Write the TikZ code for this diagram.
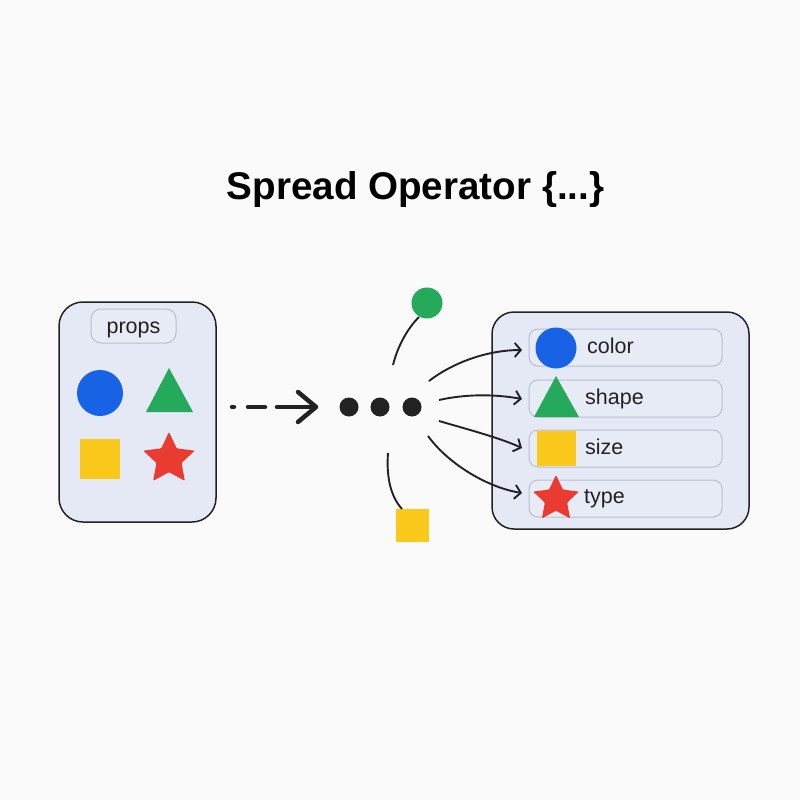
\documentclass[tikz,border=0pt]{standalone}
\usepackage{fontspec}
\setmainfont{Liberation Sans}
\usetikzlibrary{shapes.geometric,arrows.meta}
\definecolor{bg}{HTML}{FAFAFA}
\definecolor{boxfill}{HTML}{E5E9F5}
\definecolor{rowfill}{HTML}{E7EBF6}
\definecolor{rowline}{HTML}{B8BED0}
\definecolor{gblue}{HTML}{1862E6}
\definecolor{ggreen}{HTML}{25A95B}
\definecolor{gyellow}{HTML}{FBC91B}
\definecolor{gred}{HTML}{EA3B30}
\definecolor{ink}{HTML}{222222}
\tikzset{
  bigbox/.style={draw=ink, line width=1.5pt, fill=boxfill, rounded corners=24pt},
  rowbox/.style={draw=rowline, line width=1pt, fill=rowfill, rounded corners=9pt},
  lbl/.style={font=\fontsize{21.5}{24}\selectfont, text=ink, inner sep=0pt},
  dotnode/.style={circle, fill=ink, minimum size=19pt, inner sep=0pt},
  starnode/.style={star, star points=5, star point ratio=2.05, fill=gred, inner sep=0pt, rounded corners=1pt},
  link/.style={draw=ink, line width=1.9pt, -{Straight Barb[length=6pt,width=14pt,line width=1.9pt]}},
  stem/.style={draw=ink, line width=1.9pt},
}
\begin{document}
\begin{tikzpicture}[x=1pt,y=-1pt]
\fill[bg] (0,0) rectangle (800,800);
\useasboundingbox (0,0) rectangle (800,800);

% title
\node[anchor=base, inner sep=0pt, font=\fontsize{38.6}{44}\selectfont\bfseries, text=black] (title) at (415.5,199) {Spread Operator \{...\}};

% left box
\draw[bigbox] (59,302) rectangle (216,522);
\draw[rowbox, rounded corners=10pt] (91,309) rectangle (176,343);
\node[lbl, anchor=base] (props) at (133.5,333) {props};
\fill[gblue] (100,393) circle (23);
\fill[ggreen] (169,368) -- (193,412) -- (146,412) -- cycle;
\fill[gyellow] (80,439) rectangle (120,479);
\node[starnode, minimum size=54pt] (lstar) at (169,459) {};

% dashed arrow
\draw[ink, line width=4.5pt, line cap=round] (232,407) -- (234,407);
\draw[ink, line width=4.5pt, line cap=round] (248,407) -- (265,407);
\draw[ink, line width=4.5pt, line cap=round, line join=round] (277,407) -- (315,407);
\draw[ink, line width=4.5pt, line cap=round, line join=round] (298,392) -- (316,407) -- (298,422);

% dots
\node[dotnode] (d1) at (349,407) {};
\node[dotnode] (d2) at (380,407) {};
\node[dotnode] (d3) at (412,407) {};

% green circle and yellow square
\node[circle, fill=ggreen, minimum size=31pt, inner sep=0pt] (gc) at (427,303) {};
\node[rectangle, fill=gyellow, minimum size=33pt, inner sep=0pt] (ys) at (412,525.5) {};
\coordinate (gs) at (393,365);
\coordinate (ysS) at (388,453);
\draw[stem] (gs) .. controls (398,345) and (408,328) .. (419,317);
\draw[stem] (ysS) .. controls (386,480) and (392,498) .. (402,509);

% right box
\draw[bigbox, rounded corners=22pt] (492,312) rectangle (749,529);
\draw[rowbox] (529,329) rectangle (722,366);
\draw[rowbox] (529,380) rectangle (722,417);
\draw[rowbox] (529,430) rectangle (722,467);
\draw[rowbox] (529,480) rectangle (722,517);
\coordinate (r1) at (522,350);
\coordinate (r2) at (522,399);
\coordinate (r3) at (522,448);
\coordinate (r4) at (522,493);

\fill[gblue] (556,348) circle (20.5);
\fill[ggreen] (556,376) -- (579,417) -- (534,417) -- cycle;
\fill[gyellow] (537,431) rectangle (576,466);
\node[starnode, minimum size=48pt] (rstar) at (556,499) {};

\node[lbl, anchor=base west] (tcolor) at (587,353) {color};
\node[lbl, anchor=base west] (tshape) at (585,404) {shape};
\node[lbl, anchor=base west] (tsize) at (585,454) {size};
\node[lbl, anchor=base west] (ttype) at (584,503) {type};

% spread links
\coordinate (s1) at (429,381);
\coordinate (s2) at (439,400);
\coordinate (s3) at (439,421);
\coordinate (s4) at (428,436);
\draw[link] (s1) .. controls (455,361) and (490,350) .. (r1);
\draw[link] (s2) .. controls (470,393) and (500,395) .. (r2);
\draw[link] (s3) .. controls (470,430) and (500,438) .. (r3);
\draw[link] (s4) .. controls (450,466) and (490,488) .. (r4);
\end{tikzpicture}
\end{document}
